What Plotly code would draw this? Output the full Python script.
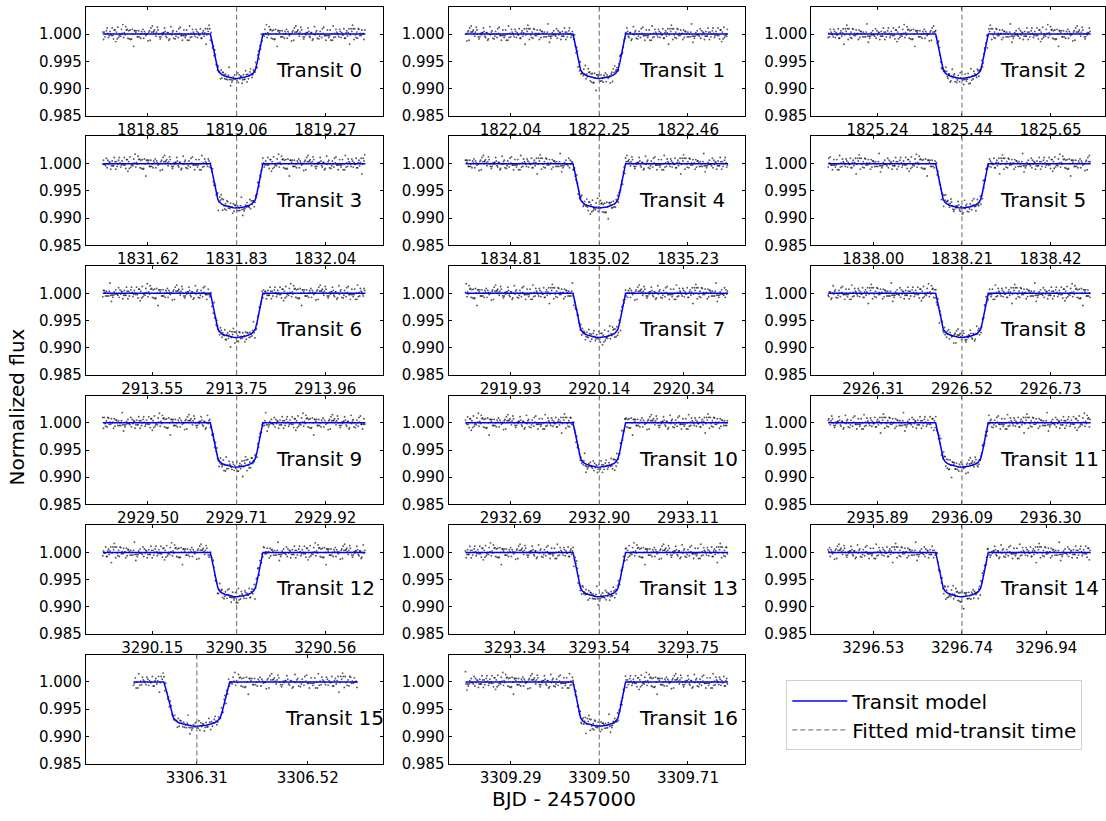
import numpy as np
import plotly.graph_objects as go

W, H = 1106, 821
FONT = "DejaVu Sans"

# ---------------- data ----------------
transit_numbers = list(range(17))
mid_times = [1819.06, 1822.25, 1825.44, 1831.83, 1835.02, 1838.21,
             2913.75, 2920.14, 2926.52, 2929.71, 2932.90, 2936.09,
             3290.35, 3293.54, 3296.74, 3306.31, 3309.50]
tick_labels = [
    ["1818.85", "1819.06", "1819.27"], ["1822.04", "1822.25", "1822.46"],
    ["1825.24", "1825.44", "1825.65"], ["1831.62", "1831.83", "1832.04"],
    ["1834.81", "1835.02", "1835.23"], ["1838.00", "1838.21", "1838.42"],
    ["2913.55", "2913.75", "2913.96"], ["2919.93", "2920.14", "2920.34"],
    ["2926.31", "2926.52", "2926.73"], ["2929.50", "2929.71", "2929.92"],
    ["2932.69", "2932.90", "2933.11"], ["2935.89", "2936.09", "2936.30"],
    ["3290.15", "3290.35", "3290.56"], ["3293.34", "3293.54", "3293.75"],
    ["3296.53", "3296.74", "3296.94"], ["3306.31", "3306.52"],
    ["3309.29", "3309.50", "3309.71"],
]
# data coverage relative to mid-transit (days)
data_start = [-0.317] * 15 + [-0.120, -0.317]
data_end = [0.305] * 17
# axis limits relative to mid-transit (days)
axis_lo = [-0.357] * 15 + [-0.210, -0.357]
axis_hi = [0.346] * 15 + [0.352, 0.346]

# transit model shape (offset from mid-transit [d], normalized flux)
model_dt = [-0.0623, -0.058, -0.053, -0.0485, -0.0443, -0.040, -0.035, -0.028,
            -0.018, -0.008, 0.0, 0.008, 0.018, 0.028, 0.035, 0.040, 0.0443,
            0.0485, 0.053, 0.058, 0.0623]
model_flux = [1.0, 0.9985, 0.9966, 0.9947, 0.9934, 0.9929, 0.99255, 0.9923,
              0.99205, 0.9919, 0.99185, 0.9919, 0.99205, 0.9923, 0.99255,
              0.9929, 0.9934, 0.9947, 0.9966, 0.9985, 1.0]

# photometric scatter about the model, units of 1e-4 (estimated)
residual_1e4 = [3, -5, 8, 1, -2, 6, -9, 4, 0, -3, 7, -1, 5, -6, 2, 11, -4, -8, 3, 1,
                -2, 9, -5, 0, 6, -3, -12, 4, 2, -7, 5, 8, -1, -4, 3, -6, 10, 0, -2, 4,
                -9, 1, 7, -3, -5, 2, 6, -1, -15, 3, 5, -4, 8, -2, 0, -7, 4, 12, -3, 1,
                -6, 2, 9, -8, 3, -1, 5, -4, 0, 7, -2, -10, 6, 1, -5, 3, 14, -3, -1, 4,
                -7, 2, 8, -6, 0, 5, -2, -9, 3, 6, -4, 1, 10, -5, 2, -1, -3, 7, -8, 4,
                0, -6, 9, 1, -2, 5, -11, 3, -4, 6, 2, -1, 8, -5, 0, -3, 13, -7, 4, 1,
                -2, 6, -9, 3, -4, 7, 0, -1, 5, -6, 2, -18, 4, 8, -3, 1, -5, 6, -2, 9,
                -7, 0, 3, -4, 11, -1, -6, 2, 5, -3, -8, 4, 7, -2, 0, -5, 3, 10, -4, 1,
                -7, 6, -1, 2, -9, 5, -3, 8, 0, -6, 4, 1, -2, 12, -5, 3, -1, -4, 7, -3,
                5, -7, 2, 9, -1, -5, 4, 0, -8, 6, 3, -2, 15, -4, 1, -6, 8, -3, 0, 5]
cadence = 0.0017  # days

y_ticks = [0.985, 0.990, 0.995, 1.000]
y_tick_text = ["0.985", "0.990", "0.995", "1.000"]

# ---------------- layout geometry (pixels) ----------------
col_left = [86, 449, 812]
col_right = [383, 746, 1106]
row_top0, row_h, row_step = 7, 110, 131

fig = go.Figure()
layout = dict(
    width=W, height=H, margin=dict(l=0, r=0, t=0, b=0),
    paper_bgcolor="white", plot_bgcolor="white", showlegend=True,
    font=dict(family=FONT, color="black"),
)
annotations = []
shapes = []
N = len(residual_1e4)
mdt = np.array(model_dt)
mfl = np.array(model_flux)

for i, tc in enumerate(mid_times):
    r, c = divmod(i, 3)
    sfx = "" if i == 0 else str(i + 1)
    xa, ya = "x" + sfx, "y" + sfx
    x0, x1 = col_left[c], col_right[c]
    top = row_top0 + r * row_step
    bot = top + row_h

    lo = axis_lo[i]
    hi = axis_hi[i]
    if c == 2:  # right column is clipped by the figure edge
        hi = lo + (hi - lo) * (x1 - x0) / 297.0

    dts = np.arange(data_start[i], data_end[i], cadence)
    base = np.interp(dts, mdt, mfl, left=1.0, right=1.0)
    res = np.array([residual_1e4[(17 * j + 37 * i) % N] for j in range(len(dts))]) * 1.25e-4
    fig.add_trace(go.Scatter(
        x=tc + dts, y=base + res, mode="markers", xaxis=xa, yaxis=ya,
        marker=dict(size=1.9, color="rgba(0,0,0,0.65)"), showlegend=False,
        hoverinfo="skip"))

    mx = [tc + data_start[i]] + [tc + d for d in model_dt] + [tc + data_end[i]]
    my = [1.0] + model_flux + [1.0]
    fig.add_trace(go.Scatter(
        x=mx, y=my, mode="lines", xaxis=xa, yaxis=ya,
        line=dict(color="#0000ff", width=1.5), showlegend=False, hoverinfo="skip"))

    shapes.append(dict(type="line", xref=xa, yref=ya + " domain", x0=tc, x1=tc,
                       y0=0, y1=1, line=dict(color="gray", width=1.2, dash="5px,3px")))

    tv = [float(t) for t in tick_labels[i]]
    layout["xaxis" + sfx] = dict(
        domain=[x0 / W, x1 / W], anchor=ya, range=[tc + lo, tc + hi],
        tickvals=tv, ticktext=tick_labels[i], ticks="inside", ticklen=3,
        tickcolor="black", showline=True, linecolor="black", linewidth=1,
        mirror="ticks", showgrid=False, zeroline=False,
        tickfont=dict(size=15, family=FONT, color="black"))
    layout["yaxis" + sfx] = dict(
        domain=[1 - bot / H, 1 - top / H], anchor=xa, range=[0.985, 1.005],
        tickvals=y_ticks, ticktext=y_tick_text, ticks="inside", ticklen=3,
        tickcolor="black", showline=True, linecolor="black", linewidth=1,
        mirror="ticks", showgrid=False, zeroline=False,
        tickfont=dict(size=15, family=FONT, color="black"))

    annotations.append(dict(
        text=f"Transit {transit_numbers[i]}", xref=xa + " domain", yref=ya + " domain",
        x=0.663 if i == 15 else 0.635, y=0.418, xanchor="left", yanchor="middle",
        showarrow=False, font=dict(size=20, family=FONT, color="black")))

# legend entries
fig.add_trace(go.Scatter(x=[None], y=[None], mode="lines", name="Transit model",
                         line=dict(color="#0000ff", width=1.5)))
fig.add_trace(go.Scatter(x=[None], y=[None], mode="lines", name="Fitted mid-transit time",
                         line=dict(color="gray", width=1.2, dash="5px,3px")))

annotations.append(dict(text="Normalized flux", xref="paper", yref="paper",
                        x=18 / W, y=1 - 411 / H, textangle=-90, showarrow=False,
                        xanchor="center", yanchor="middle",
                        font=dict(size=20, family=FONT, color="black")))
annotations.append(dict(text="BJD - 2457000", xref="paper", yref="paper",
                        x=565 / W, y=1 - 808 / H, showarrow=False,
                        xanchor="center", yanchor="middle",
                        font=dict(size=20, family=FONT, color="black")))

layout["annotations"] = annotations
layout["shapes"] = shapes
layout["legend"] = dict(x=787 / W, y=1 - 688 / H, xanchor="left", yanchor="top",
                        bordercolor="#d0d0d0", borderwidth=1, bgcolor="white",
                        itemwidth=55, tracegroupgap=0,
                        font=dict(size=20, family=FONT, color="black"))
fig.update_layout(**layout)
fig.write_html("out.html")
